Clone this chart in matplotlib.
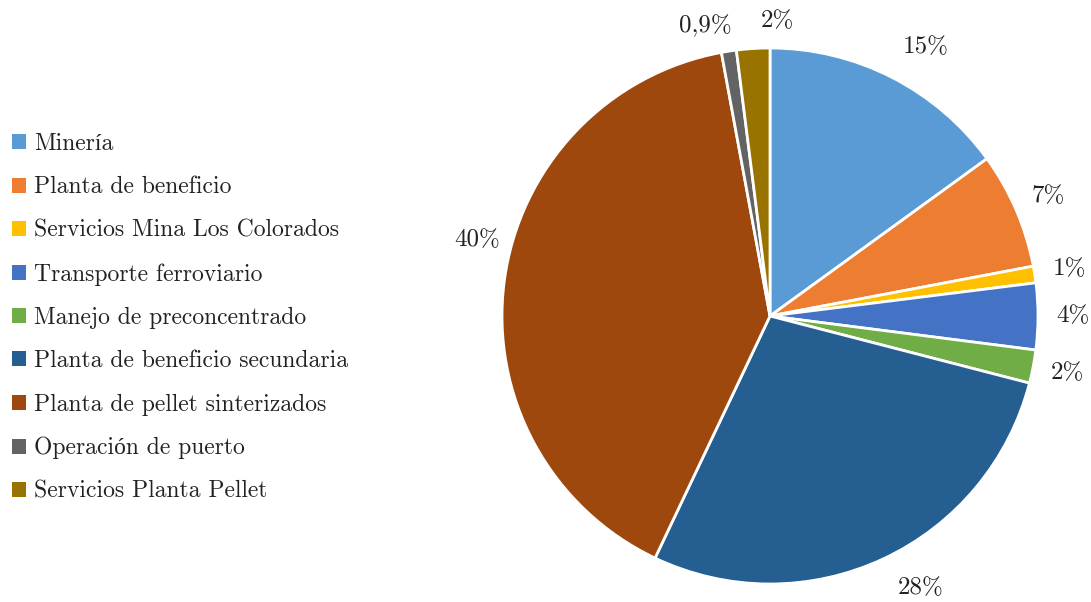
import numpy as np
import matplotlib.pyplot as plt
from matplotlib.patches import Patch

categorias = ['Minería', 'Planta de beneficio', 'Servicios Mina Los Colorados',
              'Transporte ferroviario', 'Manejo de preconcentrado',
              'Planta de beneficio secundaria', 'Planta de pellet sinterizados',
              'Operación de puerto', 'Servicios Planta Pellet']
porcentajes = [15, 7, 1, 4, 2, 28, 40, 0.9, 2]
colores = ['#5B9BD5', '#ED7D31', '#FFC000', '#4472C4', '#70AD47',
           '#255E91', '#9E480E', '#636363', '#997300']

plt.rcParams['font.family'] = ['cmr10', 'Liberation Serif']
plt.rcParams['axes.unicode_minus'] = False

etiquetas = [(f'{p:g}'.replace('.', ',') + '%') for p in porcentajes]

fig = plt.figure(figsize=(10.91, 6.02), dpi=100)
cx, cy, r = 770, 316, 268
ax = fig.add_axes([(cx - r) / 1091, (602 - cy - r) / 602, 2 * r / 1091, 2 * r / 602])

wedges, texts = ax.pie(porcentajes, colors=colores, startangle=90, counterclock=False,
                       labels=etiquetas, labeldistance=1.13,
                       wedgeprops=dict(edgecolor='white', linewidth=2),
                       textprops=dict(fontsize=18, color='#222222'))

# etiquetas con posicion ajustada (angulo, distancia) para que no se encimen
ajustes = {0: (60, 1.16), 5: (-61, 1.16), 6: (165.5, 1.13), 7: (102.5, 1.11), 8: (88.6, 1.10)}
for i, t in enumerate(texts):
    t.set_ha('center')
    t.set_va('center')
    if i in ajustes:
        ang, dist = ajustes[i]
        t.set_position((dist * np.cos(np.radians(ang)), dist * np.sin(np.radians(ang))))
ax.set_xlim(-1, 1)
ax.set_ylim(-1, 1)
ax.set_aspect('equal')

handles = [Patch(facecolor=c, edgecolor='none') for c in colores]
fig.legend(handles, categorias, loc='center left', bbox_to_anchor=(0.011, 0.472),
           frameon=False, fontsize=17, handlelength=0.6, handleheight=0.6,
           handletextpad=0.35, labelspacing=0.9, labelcolor='#222222',
           borderpad=0, borderaxespad=0)

fig.savefig('out.png', dpi=100)
